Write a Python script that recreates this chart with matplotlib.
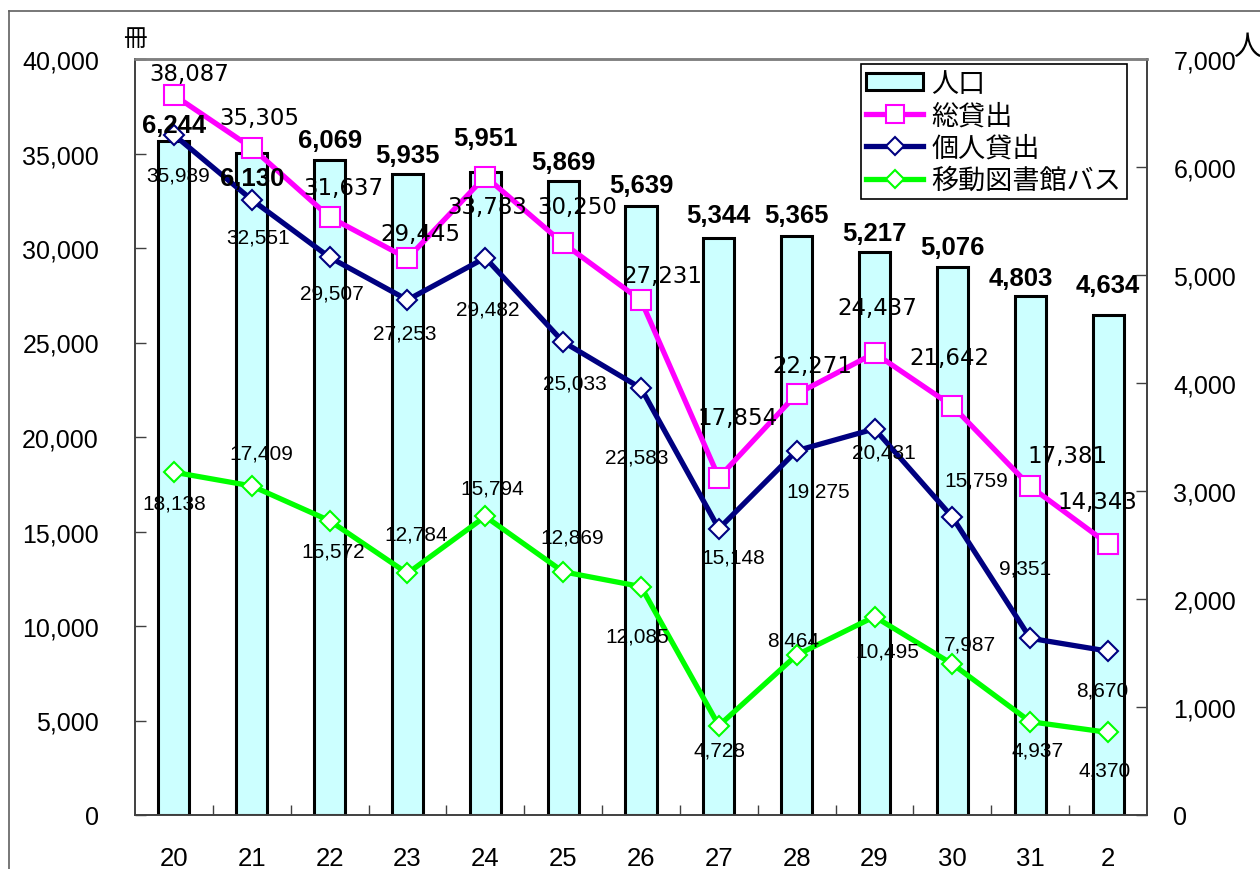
import matplotlib
matplotlib.use("Agg")
import matplotlib.pyplot as plt
from matplotlib.lines import Line2D
from matplotlib.patches import Patch
from matplotlib.ticker import FuncFormatter, FixedLocator

plt.rcParams['font.family'] = ['Liberation Sans', 'Noto Sans CJK JP']

# 年度（平成20〜31年度、令和2年度）
years = ['20', '21', '22', '23', '24', '25', '26', '27', '28', '29', '30', '31', '2']

# 人口（右軸）
population = [6244, 6130, 6069, 5935, 5951, 5869, 5639, 5344, 5365, 5217, 5076, 4803, 4634]

# 貸出冊数（左軸）
total_loans = [38087, 35305, 31637, 29445, 33783, 30250, 27231, 17854, 22271, 24437, 21642, 17381, 14343]
personal_loans = [35989, 32551, 29507, 27253, 29482, 25033, 22583, 15148, 19275, 20431, 15759, 9351, 8670]
bus_loans = [18138, 17409, 15572, 12784, 15794, 12869, 12085, 4728, 8464, 10495, 7987, 4937, 4370]

# ラベルの位置ずらし（ピクセル, 上が正）
pop_off = [(0, 16), (0, -25), (0, 20), (0, 19), (0, 34), (0, 19), (0, 21),
           (0, 23), (0, 21), (0, 19), (0, 20), (-9, 18), (0, 30)]
total_off = [(15, 22), (8, 30), (14, 30), (13, 25), (2, -30), (14, 37), (21, 25),
             (19, 60), (16, 29), (3, 46), (-3, 48), (37, 31), (-11, 42)]
personal_off = [(4, -40), (6, -37), (2, -36), (-3, -33), (2, -51), (12, -41), (-4, -69),
                (14, -28), (21, -40), (9, -23), (24, 37), (-5, 70), (-6, -39)]
bus_off = [(0, -31), (10, 33), (4, -30), (9, 39), (7, 28), (9, 35), (-4, -49),
           (1, -24), (-4, 15), (13, -34), (18, 20), (7, -28), (-3, -38)]

x = list(range(len(years)))

fig = plt.figure(figsize=(12.6, 8.7), dpi=100)
ax = fig.add_axes([135 / 1260, 54 / 870, 1012 / 1260, 756 / 870])
ax2 = ax.twinx()

# 外枠（上と左のみ見えている）
fig.add_artist(Line2D([9 / 1260, 9 / 1260], [0, 1 - 12 / 870], transform=fig.transFigure,
                      color='#606060', lw=1.2))
fig.add_artist(Line2D([9 / 1260, 1], [1 - 12 / 870, 1 - 12 / 870], transform=fig.transFigure,
                      color='#606060', lw=1.2))

# 人口の棒グラフ
ax2.bar(x, population, width=0.4, color='#CCFFFF', edgecolor='black', linewidth=2.2, zorder=2)
ax2.set_ylim(0, 7000)

# 折れ線
ax.plot(x, total_loans, color='#FF00FF', lw=3.8, marker='s', markersize=15,
        markerfacecolor='white', markeredgecolor='#FF00FF', markeredgewidth=1.5, zorder=5)
ax.plot(x, personal_loans, color='#000080', lw=3.8, marker='D', markersize=10.5,
        markerfacecolor='white', markeredgecolor='#000080', markeredgewidth=1.5, zorder=5)
ax.plot(x, bus_loans, color='#00FF00', lw=3.8, marker='D', markersize=10.5,
        markerfacecolor='white', markeredgecolor='#00FF00', markeredgewidth=1.5, zorder=5)

ax.set_zorder(ax2.get_zorder() + 1)
ax.patch.set_visible(False)

ax.set_xlim(-0.5, len(years) - 0.5)
ax.set_ylim(0, 40000)

# データラベル
for i in x:
    ax.annotate(f'{population[i]:,}', xy=(i, population[i]), xycoords=ax2.transData,
                xytext=pop_off[i], textcoords='offset pixels', ha='center', va='center',
                fontsize=18.5, fontweight='bold', zorder=10)
    ax.annotate(f'{total_loans[i]:,}', xy=(i, total_loans[i]), xytext=total_off[i],
                textcoords='offset pixels', ha='center', va='center',
                fontsize=16.5, family='DejaVu Sans', zorder=10)
    ax.annotate(f'{personal_loans[i]:,}', xy=(i, personal_loans[i]), xytext=personal_off[i],
                textcoords='offset pixels', ha='center', va='center', fontsize=15, zorder=10)
    ax.annotate(f'{bus_loans[i]:,}', xy=(i, bus_loans[i]), xytext=bus_off[i],
                textcoords='offset pixels', ha='center', va='center', fontsize=15, zorder=10)

# 軸の設定
fmt = FuncFormatter(lambda v, p: f'{int(v):,}')
ax.yaxis.set_major_locator(FixedLocator(range(0, 40001, 5000)))
ax.yaxis.set_major_formatter(fmt)
ax2.yaxis.set_major_locator(FixedLocator(range(0, 7001, 1000)))
ax2.yaxis.set_major_formatter(fmt)
ax.set_xticks(x)
ax.set_xticklabels(years)
ax.set_xticks([i + 0.5 for i in x[:-1]], minor=True)

ax.tick_params(axis='x', which='major', length=0, pad=22, labelsize=18.5)
ax.tick_params(axis='x', which='minor', direction='in', length=7, width=1, color='#404040')
ax.tick_params(axis='y', direction='in', length=8, width=1, color='#404040', pad=26, labelsize=18)
ax2.tick_params(axis='y', direction='in', length=8, width=1, color='#404040', pad=19, labelsize=18)

for a in (ax, ax2):
    for side in ('left', 'right', 'bottom'):
        a.spines[side].set_color('#404040')
        a.spines[side].set_linewidth(1.2)
    a.spines['top'].set_color('#808080')
    a.spines['top'].set_linewidth(1.8)

fig.text(135 / 1260, 1 - 40 / 870, '冊', ha='center', va='center', fontsize=17,
         family='Noto Sans CJK JP')
fig.text(1233 / 1260, 1 - 47 / 870, '人', ha='left', va='center', fontsize=20,
         family='Noto Sans CJK JP')

# 凡例
handles = [
    Patch(facecolor='#CCFFFF', edgecolor='black', linewidth=2.2),
    Line2D([], [], color='#FF00FF', lw=3.8, marker='s', markersize=13,
           markerfacecolor='white', markeredgecolor='#FF00FF', markeredgewidth=1.5),
    Line2D([], [], color='#000080', lw=3.8, marker='D', markersize=9,
           markerfacecolor='white', markeredgecolor='#000080', markeredgewidth=1.5),
    Line2D([], [], color='#00FF00', lw=3.8, marker='D', markersize=9,
           markerfacecolor='white', markeredgecolor='#00FF00', markeredgewidth=1.5),
]
leg = ax.legend(handles, ['人口', '総貸出', '個人貸出', '移動図書館バス'],
                loc='upper right', bbox_to_anchor=(0.980, 0.993), borderaxespad=0,
                prop={'family': 'Noto Sans CJK JP', 'size': 19.5}, fancybox=False,
                framealpha=1, edgecolor='black', handlelength=2.1, handleheight=0.6,
                labelspacing=0.2, handletextpad=0.3, borderpad=0.2)
leg.get_frame().set_linewidth(1.2)
leg.set_zorder(20)

fig.savefig('out.png', dpi=100)
